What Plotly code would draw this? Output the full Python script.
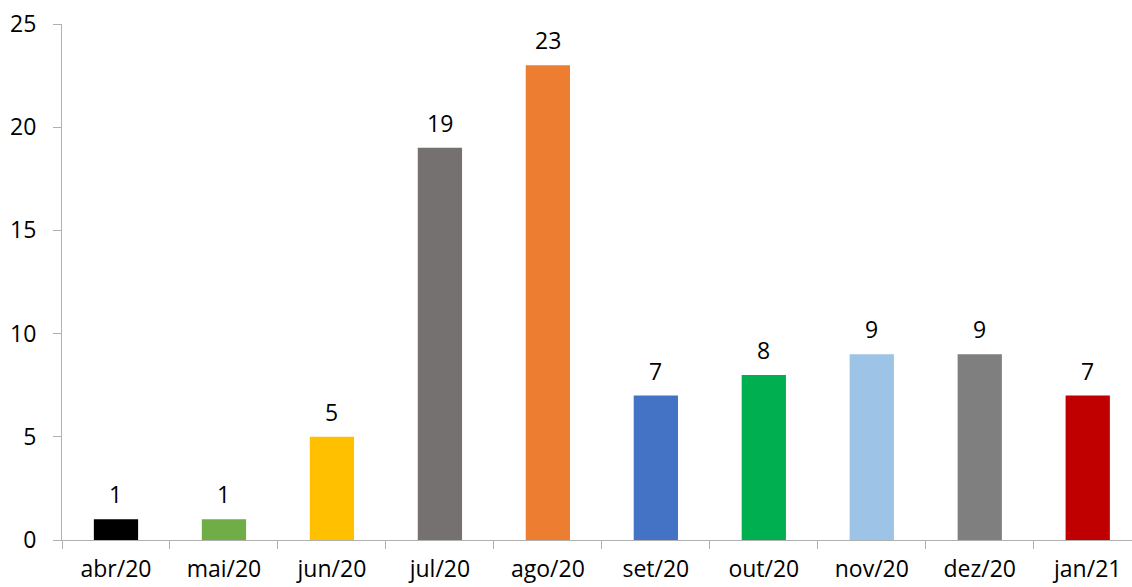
import plotly.graph_objects as go

categories = ["abr/20", "mai/20", "jun/20", "jul/20", "ago/20", "set/20", "out/20", "nov/20", "dez/20", "jan/21"]
values = [1, 1, 5, 19, 23, 7, 8, 9, 9, 7]
colors = ["#000000", "#70AD47", "#FFC000", "#767171", "#ED7D31", "#4472C4", "#00B050", "#9DC3E6", "#7F7F7F", "#C00000"]
y_ticks = [0, 5, 10, 15, 20, 25]

FONT = "Open Sans, Carlito, Calibri, sans-serif"
FS = 23

fig = go.Figure()
fig.add_trace(go.Bar(
    x=categories, y=values, marker=dict(color=colors, line=dict(width=0)),
    width=0.41, showlegend=False, hoverinfo="x+y",
))

for c, v in zip(categories, values):
    fig.add_annotation(x=c, y=v, text=str(v), showarrow=False, yanchor="bottom",
                       yshift=7, font=dict(family=FONT, size=FS, color="#000000"))

fig.update_layout(
    width=1132, height=587,
    margin=dict(l=62, r=0, t=24, b=47),
    paper_bgcolor="white", plot_bgcolor="white",
    bargap=0.59,
    font=dict(family=FONT, size=FS, color="#000000"),
    xaxis=dict(
        type="category", range=[-0.5, 9.41],
        showline=True, linecolor="#B0B0B0", linewidth=1,
        ticks="outside", ticklen=8, tickcolor="#B0B0B0", tickson="boundaries",
        showgrid=False, zeroline=False, ticklabelstandoff=8,
        tickfont=dict(family=FONT, size=FS, color="#000000"),
    ),
    yaxis=dict(
        range=[0, 25], tickvals=y_ticks,
        showline=True, linecolor="#B0B0B0", linewidth=1,
        ticks="outside", ticklen=8, tickcolor="#B0B0B0",
        showgrid=False, zeroline=False, ticklabelstandoff=12,
        tickfont=dict(family=FONT, size=FS, color="#000000"),
    ),
)

fig.write_html("out.html")
